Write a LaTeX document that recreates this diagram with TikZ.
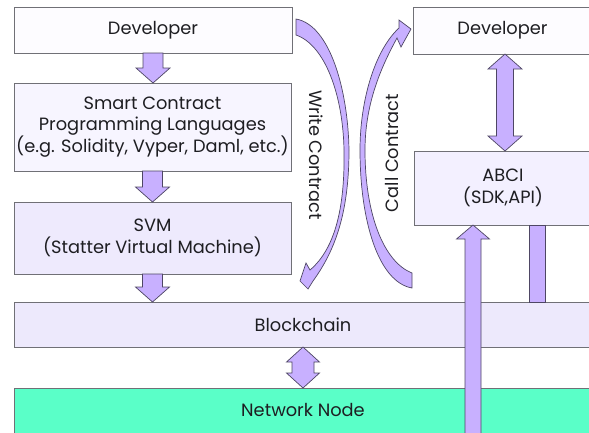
\documentclass[tikz,border=0pt]{standalone}
\usepackage{fontspec}
\setmainfont{Poppins}
\usetikzlibrary{calc}

\definecolor{arrowfill}{RGB}{200,176,255}
\definecolor{arrowline}{RGB}{78,70,100}
\definecolor{boxline}{RGB}{112,112,118}
\definecolor{devfill}{RGB}{253,252,255}
\definecolor{langfill}{RGB}{247,245,255}
\definecolor{vmfill}{RGB}{238,234,253}
\definecolor{chainfill}{RGB}{237,233,252}
\definecolor{abcifill}{RGB}{243,240,255}
\definecolor{netfill}{RGB}{90,255,200}
\definecolor{ink}{RGB}{30,30,34}

\begin{document}
\begin{tikzpicture}[x=1pt,y=-1pt,
  font=\fontsize{17.8}{21.5}\selectfont,
  box/.style={draw=boxline, line width=0.8pt, outer sep=0pt, inner sep=0pt,
    anchor=north west, align=center, text=ink},
  blk/.style={fill=arrowfill, draw=arrowline, line width=0.7pt, line join=miter},
  lbl/.style={text=ink, inner sep=0pt}]
\useasboundingbox (0,0) rectangle (589,432);

% left column
\node[box, fill=devfill, minimum width=278pt, minimum height=46pt] (devL) at (14,7) {Developer};
\node[box, fill=langfill, minimum width=277pt, minimum height=88pt] (lang) at (14,83)
  {Smart Contract\\Programming Languages\\(e.g. Solidity, Vyper, Daml, etc.)};
\node[box, fill=vmfill, minimum width=277pt, minimum height=72pt] (svm) at (14,202)
  {SVM\\(Statter Virtual Machine)};

% full-width layers
\node[box, fill=chainfill, minimum width=578pt, minimum height=45pt] (chain) at (14,302) {Blockchain};
\node[box, fill=netfill, minimum width=578pt, minimum height=50pt] (net) at (14,388) {};
\node[lbl] (netlabel) at ($(net.north)+(0,22)$) {Network Node};

% right column
\node[box, fill=devfill, minimum width=179pt, minimum height=47pt] (devR) at (413,7) {Developer};
\node[box, fill=abcifill, minimum width=178pt, minimum height=74pt] (abci) at (414,151)
  {ABCI\\(SDK,API)};

% straight block arrows between the layers
\path[blk] let \p1=(devL.south), \p2=(lang.north) in
  (\x1-10pt,\y1) -- (\x1-10pt,\y2+15pt) -- (\x1-17pt,\y2+15pt) -- (\x1,\y2)
  -- (\x1+17pt,\y2+15pt) -- (\x1+10pt,\y2+15pt) -- (\x1+10pt,\y1) -- cycle;
\path[blk] let \p1=(lang.south), \p2=(svm.north) in
  (\x1-10pt,\y1) -- (\x1-10pt,\y2+15pt) -- (\x1-17pt,\y2+15pt) -- (\x1,\y2)
  -- (\x1+17pt,\y2+15pt) -- (\x1+10pt,\y2+15pt) -- (\x1+10pt,\y1) -- cycle;
\path[blk] let \p1=(svm.south), \p2=(chain.north) in
  (\x1-10pt,\y1) -- (\x1-10pt,\y2+15pt) -- (\x1-17pt,\y2+15pt) -- (\x1,\y2)
  -- (\x1+17pt,\y2+15pt) -- (\x1+10pt,\y2+15pt) -- (\x1+10pt,\y1) -- cycle;

% two-way arrow blockchain <-> network node
\path[blk] let \p1=(chain.south), \p2=(net.north) in
  (\x1,\y1) -- (\x1+16.5pt,\y1-15pt) -- (\x1+11pt,\y1-15pt) -- (\x1+11pt,\y2+15pt)
  -- (\x1+16.5pt,\y2+15pt) -- (\x1,\y2) -- (\x1-16.5pt,\y2+15pt) -- (\x1-11pt,\y2+15pt)
  -- (\x1-11pt,\y1-15pt) -- (\x1-16.5pt,\y1-15pt) -- cycle;

% two-way arrow developer <-> ABCI
\path[blk] let \p1=($(devR.south)+(2.5,0)$), \p2=(abci.north) in
  (\x1,\y1) -- (\x1+17pt,\y1-15pt) -- (\x1+8.5pt,\y1-15pt) -- (\x1+8.5pt,\y2+15pt)
  -- (\x1+17pt,\y2+15pt) -- (\x1,\y2) -- (\x1-17pt,\y2+15pt) -- (\x1-8.5pt,\y2+15pt)
  -- (\x1-8.5pt,\y1-15pt) -- (\x1-17pt,\y1-15pt) -- cycle;

% long arrow rising from below into ABCI
\coordinate (upfoot) at ($(abci.south)+(-30,0)$);
\path[blk] let \p1=(abci.south), \p2=(upfoot) in
  (\x2-8pt,-440pt) -- (\x2-8pt,\y1-14pt) -- (\x2-16.5pt,\y1-14pt) -- (\x2,\y1)
  -- (\x2+16.5pt,\y1-14pt) -- (\x2+8pt,\y1-14pt) -- (\x2+8pt,-440pt) -- cycle;

% bar joining ABCI and the blockchain
\path[blk] let \p1=(abci.south), \p2=(chain.north) in
  (\x1+26pt,\y1) rectangle (\x1+42pt,\y2);

% curved arrow: write contract
\path[blk] (296,19) .. controls (330,25) and (348,90) .. (349,150)
  .. controls (349,215) and (334,252) .. (313,281)
  -- (308,289) -- (300,281) -- (306,263) -- (310,270)
  .. controls (336,248) and (345,205) .. (344,150)
  .. controls (343,95) and (325,45) .. (296,35) -- cycle;
\node[lbl, rotate=-90] (write) at (316,155) {Write Contract};

% curved arrow: call contract
\path[blk] (412,288) .. controls (378,282) and (360,220) .. (360,150)
  .. controls (360,100) and (375,50) .. (399,28)
  -- (399,20) -- (411,29) -- (401,47) -- (397,38)
  .. controls (384,62) and (365,100) .. (365,150)
  .. controls (365,215) and (384,262) .. (412,273) -- cycle;
\node[lbl, rotate=90] (call) at (392,153) {Call Contract};
\end{tikzpicture}
\end{document}
